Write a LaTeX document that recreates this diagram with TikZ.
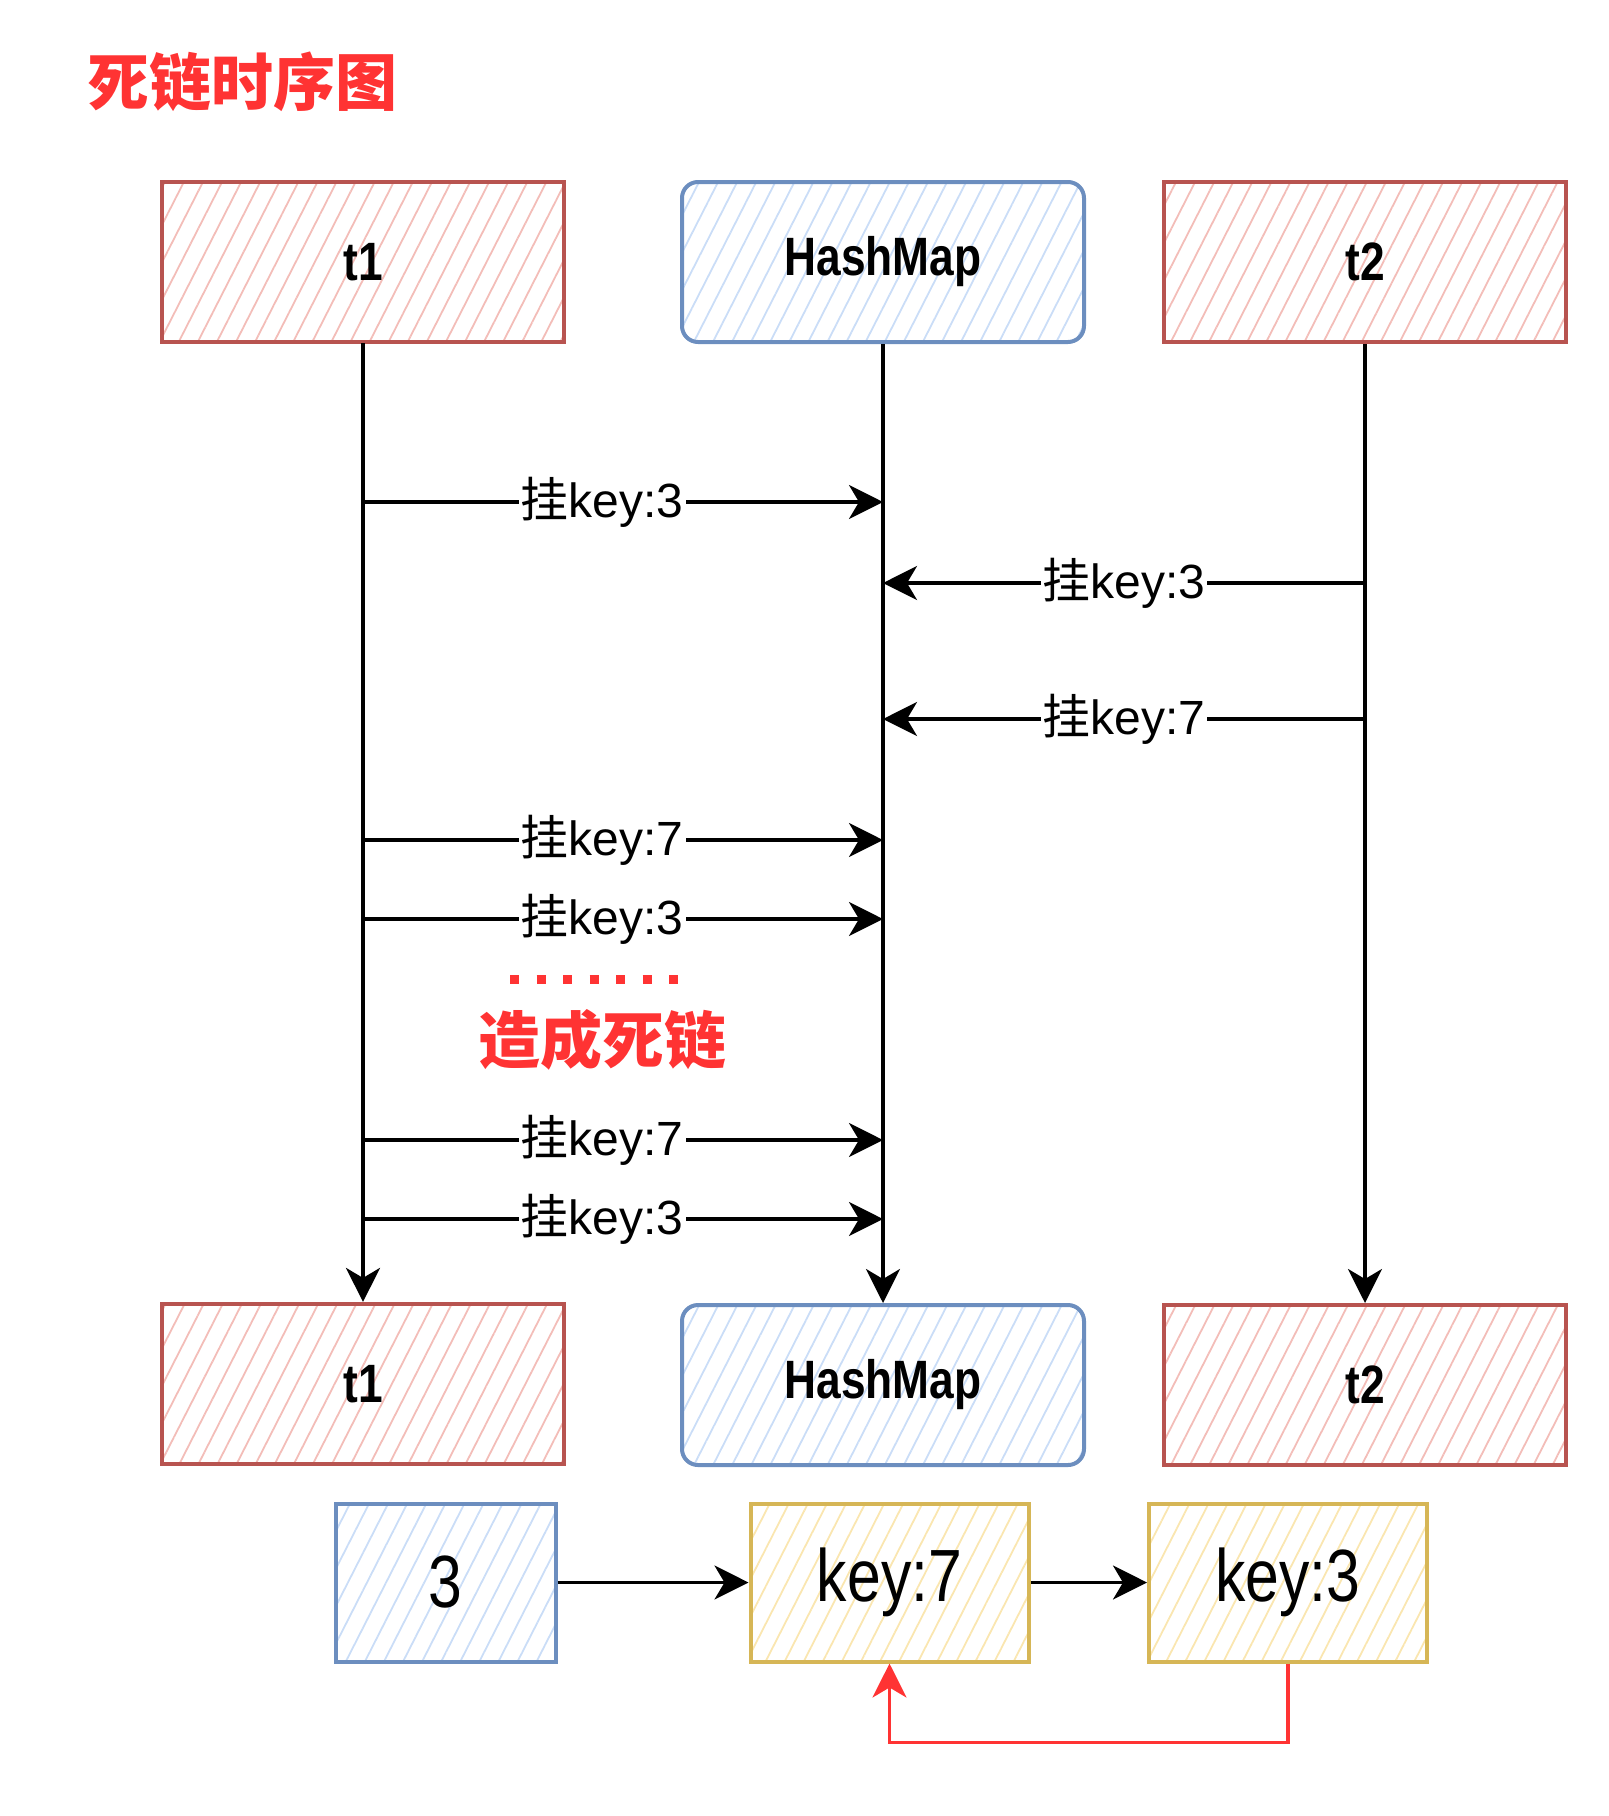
\documentclass[tikz,border=0pt]{standalone}
\usepackage{fontspec}
\setmainfont{Liberation Sans}
\newfontfamily\cjk{Noto Sans CJK SC}
\newfontfamily\narrow[FakeStretch=0.82]{Liberation Sans}
\usetikzlibrary{arrows.meta}
\usetikzlibrary{positioning}
\usetikzlibrary{patterns.meta}
\definecolor{redFill}{HTML}{F3BDB8}
\definecolor{redLine}{HTML}{B85450}
\definecolor{blueFill}{HTML}{CADDF7}
\definecolor{blueLine}{HTML}{6C8EBF}
\definecolor{yellowFill}{HTML}{FAE6B0}
\definecolor{yellowLine}{HTML}{D6B656}
\definecolor{alarm}{HTML}{FF3333}
\newcommand{\guakey}[1]{{\cjk 挂}key:#1}
\tikzset{%
  >={Stealth[length=17pt,width=17pt,inset=5pt]},
  % Specifications for style of nodes:
       hatchbox/.style = {rectangle, line width=2pt, text centered,
                          font=\narrow\bfseries\fontsize{27}{30}\selectfont},
         thread/.style = {hatchbox, draw=redLine, pattern color=redFill,
                          pattern={Lines[angle=63,distance=8.5pt,line width=0.9pt]},
                          minimum width=201pt, minimum height=80pt},
        hashmap/.style = {thread, draw=blueLine, pattern color=blueFill,
                          rounded corners=8pt},
         bucket/.style = {hatchbox, draw=blueLine, pattern color=blueFill,
                          pattern={Lines[angle=63,distance=8.5pt,line width=0.9pt]},
                          minimum width=110pt, minimum height=79pt,
                          font=\narrow\fontsize{37}{40}\selectfont},
          entry/.style = {bucket, draw=yellowLine, pattern color=yellowFill,
                          minimum width=139pt},
  % Specifications for style of lines:
           life/.style = {->, line width=1.8pt},
            msg/.style = {->, line width=1.8pt},
            lbl/.style = {fill=white, inner sep=1pt, font=\fontsize{24}{28}\selectfont},
       loopback/.style = {->, line width=1.6pt, draw=alarm},
       headline/.style = {text=alarm, font=\cjk\bfseries\fontsize{31}{34}\selectfont},
}
\begin{document}
\begin{tikzpicture}[x=0.5pt, y=-0.5pt]
  \useasboundingbox (0,0) rectangle (1608,1816);

  % Title
  \node (title) [headline] at (242,82) {死链时序图};

  % Heads of the lifelines
  \node (t1top) [thread]  at (363,262) {t1};
  \node (hmtop) [hashmap] at (883,262) {HashMap};
  \node (t2top) [thread]  at (1365,262) {t2};

  % Feet of the lifelines
  \node (t1bot) [thread,  below=479.5pt of t1top] {t1};
  \node (hmbot) [hashmap, below=479.5pt of hmtop] {HashMap};
  \node (t2bot) [thread,  below=479.5pt of t2top] {t2};

  \draw[life] (t1top) -- (t1bot);
  \draw[life] (hmtop) -- (hmbot);
  \draw[life] (t2top) -- (t2bot);

  % Messages between threads and map
  \draw[msg] (t1top.south |- 0,502) -- node[lbl, pos=0.46] {\guakey{3}} (hmtop.south |- 0,502);
  \draw[msg] (t2top.south |- 0,583) -- node[lbl] {\guakey{3}} (hmtop.south |- 0,583);
  \draw[msg] (t2top.south |- 0,719) -- node[lbl] {\guakey{7}} (hmtop.south |- 0,719);
  \draw[msg] (t1top.south |- 0,840) -- node[lbl, pos=0.46] {\guakey{7}} (hmtop.south |- 0,840);
  \draw[msg] (t1top.south |- 0,919) -- node[lbl, pos=0.46] {\guakey{3}} (hmtop.south |- 0,919);

  \coordinate (dotsL) at (510,979);
  \coordinate (dotsR) at (685,979);
  \draw[alarm, line width=4.5pt, dash pattern=on 4.5pt off 8.75pt] (dotsL) -- (dotsR);
  \node (dead) [headline] at (602,1040) {造成死链};

  \draw[msg] (t1top.south |- 0,1140) -- node[lbl, pos=0.46] {\guakey{7}} (hmtop.south |- 0,1140);
  \draw[msg] (t1top.south |- 0,1219) -- node[lbl, pos=0.46] {\guakey{3}} (hmtop.south |- 0,1219);

  % Resulting chain in the bucket
  \node (slot) [bucket] at (445.5,1582.5) {3};
  \node (key7) [entry]  at (889.5,1582.5) {key:7};
  \node (key3) [entry]  at (1288,1582.5) {key:3};

  \draw[msg] (slot) -- (key7);
  \draw[msg] (key7) -- (key3);
  \draw[loopback] (key3.south) -- ++(0,79) -| (key7.south);
\end{tikzpicture}
\end{document}
